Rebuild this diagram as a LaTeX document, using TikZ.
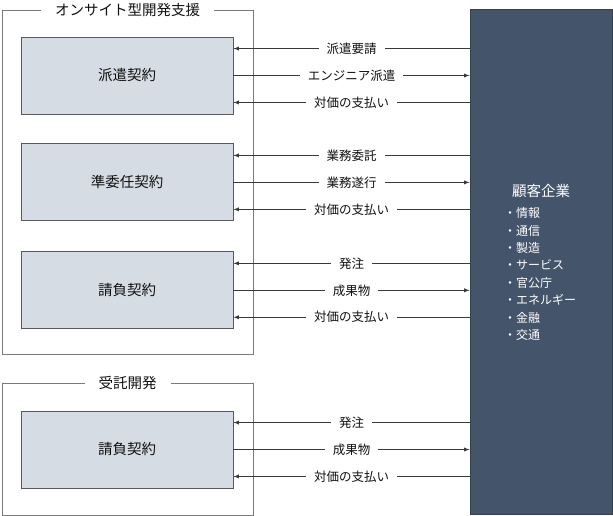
\documentclass[tikz,border=0pt]{standalone}
\usepackage{fontspec}
\setmainfont{Noto Sans CJK JP}
\usetikzlibrary{positioning}
\definecolor{framegray}{HTML}{7A7A7A}
\definecolor{boxgray}{HTML}{5A5A5A}
\definecolor{boxfill}{HTML}{D6DCE4}
\definecolor{clientfill}{HTML}{44546A}
\definecolor{clientline}{HTML}{34404F}
\definecolor{arrowgray}{HTML}{3A3A3A}
\definecolor{txt}{HTML}{111111}
\tikzset{
  frame/.style={draw=framegray, line width=0.9pt},
  ttl/.style={fill=white, inner xsep=14pt, inner ysep=2pt, font=\fontsize{14.5}{16}\selectfont, text=txt},
  contract/.style={draw=boxgray, fill=boxfill, line width=0.9pt, minimum width=212pt, minimum height=77pt, font=\fontsize{14.5}{17}\selectfont, text=txt},
  client/.style={draw=clientline, fill=clientfill, line width=0.9pt, minimum width=142pt, minimum height=505pt},
  flow/.style={draw=arrowgray, line width=0.9pt, -latex},
  lbl/.style={fill=white, inner xsep=8pt, inner ysep=1pt, font=\fontsize{12.5}{14}\selectfont, text=txt}
}
\begin{document}
\begin{tikzpicture}[x=1pt,y=1pt]
    \useasboundingbox (0,0) rectangle (613,-516);
    %% frames
    \draw[frame] (2,-10) rectangle (253,-354);
    \node[ttl] (onsite) at (127.5,-10) {オンサイト型開発支援};
    \draw[frame] (2,-383) rectangle (253,-515);
    \node[ttl] (jutaku) at (127.5,-383) {受託開発};
    %% contracts
    \node[contract] (haken) at (127,-75.5) {派遣契約};
    \node[contract, below=29pt of haken] (jun) {準委任契約};
    \node[contract, below=30pt of jun] (uke) {請負契約};
    \node[contract] (juta) at (127,-449.5) {請負契約};
    %% client
    \node[client] (cust) at (541,-261.5) {};
    \node[text=white, font=\fontsize{14.5}{17}\selectfont] (custname) at (541,-191) {顧客企業};
    \node[text=white, anchor=west, inner sep=0pt, align=left, font=\fontsize{12}{17.4}\selectfont] (custlist) at (504,-274)
        {・情報\\・通信\\・製造\\・サービス\\・官公庁\\・エネルギー\\・金融\\・交通};
    %% flows
    \foreach \b/\req/\dlv in {haken/派遣要請/エンジニア派遣, jun/業務委託/業務遂行, uke/発注/成果物, juta/発注/成果物} {
        \path ([yshift=-12pt]\b.north east) coordinate (\b top)
              ([yshift=12pt]\b.south east) coordinate (\b bot);
        \draw[flow] (cust.west |- \b top) -- (\b top) node[lbl, midway] {\req};
        \draw[flow] (\b.east) -- (cust.west |- \b.east) node[lbl, midway] {\dlv};
        \draw[flow] (cust.west |- \b bot) -- (\b bot) node[lbl, midway] {対価の支払い};
    }
\end{tikzpicture}
\end{document}
